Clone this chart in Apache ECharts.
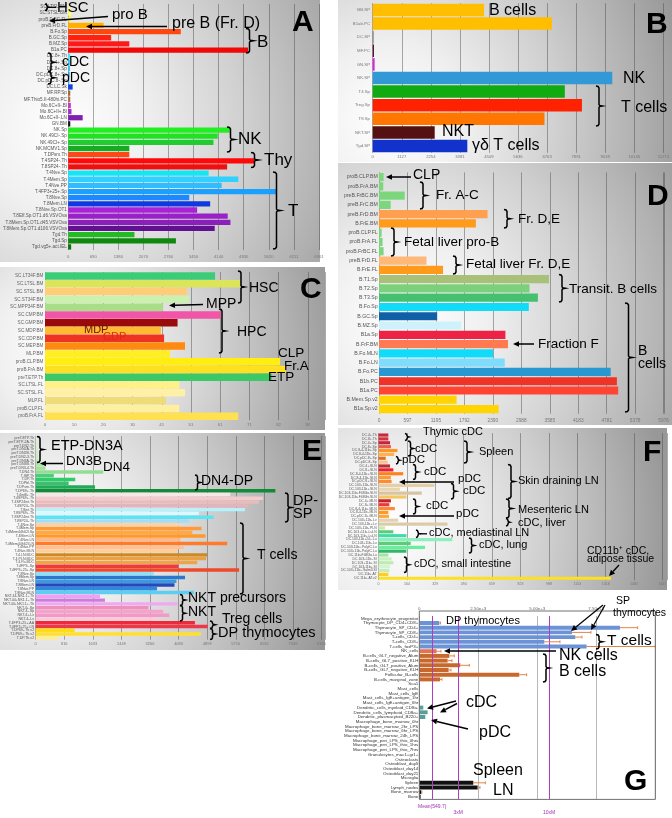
<!DOCTYPE html>
<html><head><meta charset="utf-8">
<script src="https://cdn.jsdelivr.net/npm/echarts/dist/echarts.min.js"></script>
<style>html,body{margin:0;padding:0;background:#fff;}#c{width:672px;height:818px;}</style>
</head><body><div id="c"></div><script>
// ---------- Panel A ----------
const aCats = ['SC.LTSL.BM','SC.STSL.BM','proB.FrBC.FL','preB.FrD.FL','B.Fo.Sp','B.GC.Sp','B.MZ.Sp','B1a.PC','DC.8+.Th','DC.4+.Sp','DC.8+.Sp','DC.pDC.8+.Sp','DC.pDC.8-.Sp','DC.LC.Sk','MF.RP.Sp','MF.Thio5.II-480hi.PC','Mo.6C+II-.Bl','Mo.6C+II+.Bl','Mo.6C+II-.LN','GN.BM','NK.Sp','NK.49CI-.Sp','NK.49CI+.Sp','NK.MCMV1.Sp','T.DPsm.Th','T.4SP24-.Th','T.8SP24-.Th','T.4Nve.Sp','T.4Mem.Sp','T.4Nve.PP','T.4FP3+25+.Sp','T.8Nve.Sp','T.8Mem.LN','T.8Nve.Sp.OT1','T.8Eff.Sp.OT1.d6.VSVOva','T.8Mem.Sp.OT1.d45.VSVOva','T.8Mem.Sp.OT1.d106.VSVOva','Tgd.Th','Tgd.Sp','Tgd.vg5+.act.IEL'];
const aVals = [59,83,74,975,3099,1183,1683,4948,59,49,49,41,33,124,59,59,74,92,400,59,4448,4115,3998,1683,1683,5131,4374,3865,4681,4224,5723,3332,3907,3549,4390,4465,4032,1825,2965,83];
const aTicks = ['0','690','1380','2070','2760','3450','4140','4830','5520','6211','6901'];
// ---------- Panel B ----------
const bCats = ['BB.SP','B1ab.PC','DC.SP','MF.PC','GN.SP','NK.SP','T4.Sp','Treg.Sp','T8.Sp','NKT.SP','Tgd.SP'];
const bVals = [4321,6951,38,50,75,9293,7452,8116,6663,2405,3670];
const bTicks = ['0','1127','2254','3381','4509','5636','6763','7891','9018','10145','11273'];
// ---------- Panel C ----------
const cCats = ['SC.LT34F.BM','SC.LTSL.BM','SC.STSL.BM','SC.ST34F.BM','SC.MPP34F.BM','SC.CMP.BM','SC.GMP.BM','SC.MDP.BM','SC.CDP.BM','SC.MEP.BM','MLP.BM','proB.CLP.BM','proB.FrA.BM','preT.ETP.Th','SC.LTSL.FL','SC.STSL.FL','MLP.FL','proB.CLP.FL','proB.FrA.FL'];
const cVals = [59.4,68.1,49.5,50.4,41.3,61.4,46.3,40.5,41.6,48.9,43.7,82.1,84.1,79.2,46.9,48.9,42.3,46.9,67.5];
const cTicks = ['0','10','20','30','41','51','61','71','82','92'];
// ---------- Panel D ----------
const dCats = ['proB.CLP.BM','proB.FrA.BM','preB.FrBC.BM','preB.FrC.BM','preB.FrD.BM','B.FrE.BM','proB.CLP.FL','proB.FrA.FL','proB.FrBC.FL','preB.FrD.FL','B.FrE.FL','B.T1.Sp','B.T2.Sp','B.T3.Sp','B.Fo.Sp','B.GC.Sp','B.MZ.Sp','B1a.Sp','B.FrF.BM','B.Fo.MLN','B.Fo.LN','B.Fo.PC','B1b.PC','B1a.PC','B.Mem.Sp.v2','B1a.Sp.v2'];
const dVals = [96,89,539,246,2279,2033,55,75,96,996,1344,3568,3159,3336,3145,1221,1726,2654,2708,2395,2640,4864,4994,5021,1630,2511];
const dTicks = ['0','597','1195','1792','2390','2988','3585','4183','4781','5378','5976'];
// ---------- Panel E ----------
const eCats = ['preT.ETP.Th','preT.ETP-2A.Th','preT.DN2.Th','preT.DN2A.Th','preT.DN2B.Th','preT.DN2-3.Th','preT.DN3A.Th','preT.DN3B.Th','preT.DN3-4.Th','T.DN4.Th','T.ISP.Th','T.DP.Th','T.DPbl.Th','T.DPsm.Th','T.DP69+.Th','T.4int8+.Th','T.4SP69+.Th','T.4SP24int.Th','T.4SP24-.Th','T.8int.Th','T.8SP69+.Th','T.8SP24int.Th','T.8SP24-.Th','T.4Nve.Sp','T.4Mem.Sp','T.4Mem44h62l.Sp','T.4Mem.LN','T.4Nve.LN','T.4Mem44h62l.LN','T.4Nve.PP','T.4Nve.MLN','T.4.LN.BDC','T.4.PLN.BDC','T.4.Pa.BDC','T.4FP3-.Sp','T.4FP3+25+.Sp','T.8Nve.Sp','T.8Mem.Sp','T.8Nve.LN','T.8Mem.LN','T.8Nve.PP','T.8Nve.MLN','NKT.44-NK1.1-.Th','NKT.44+NK1.1-.Th','NKT.44+NK1.1+.Th','NKT.4+.Sp','NKT.4-.Sp','NKT.4+.Lv','NKT.4-.Lv','T.4FP3+25+.AA','T.4FP3+25+.LN','T.DP69-.Th.v2','T.DP69+.Th.v2','T.DP.Th.v2'];
const eVals = [47,47,57,66,66,75,85,217,283,1931,518,1130,942,1695,6847,5557,6498,6376,6075,5980,4662,5086,4379,4100,4737,4474,4850,4144,5472,4238,4050,4897,4869,4615,4078,5811,3372,4266,4021,3965,3466,4521,1837,1978,4050,3221,3645,3814,3456,4549,4916,1111,4718,640];
const eTicks = ['0','816','1633','2449','3266','4083','4899','5716','6532','7349','8165'];
// ---------- Panel F ----------
const fCats = ['DC.4+.Th','DC.8+.Th','DC.4+.Sp','DC.8+.Sp','DC.8-4-11b+.Sp','DC.8-4-11b-.Sp','DC.pDC.8+.Sp','DC.pDC.8-.Sp','DC.4+.SLN','DC.8+.SLN','DC.8-4-11b+.SLN','DC.8-4-11b-.SLN','DC.pDC.8+.SLN','DC.103+11b-.SLN','DC.103-11b+.SLN','DC.103-11b+F480lo.SLN','DC.103-11b+F480hi.SLN','DC.4+.MLN','DC.8+.MLN','DC.8-4-11b+.MLN','DC.8-4-11b-.MLN','DC.pDC.8+.MLN','DC.103+11b-.Lv','DC.103-11b+.Lv','DC.103+11b-.PLN','DC.103+11b-.LuLN','DC.103-11b+.LuLN','DC.103-11b+24+.Lu','DC.103+11b-.Lu','DC.103-11b+.PolyIC.Lu','DC.103+11b-.PolyIC.Lu','DC.11b+F480lo.Lu','DC.103+11b-.SI','DC.103+11b+.SI','DC.103-11b+.SI','DC.103+11b+.Salm3.SI','DC.11b+.AT','DC.11b+.AT.v2'];
const fVals = [57,57,67,72,110,91,42,53,67,86,143,72,76,324,124,251,162,72,63,95,57,61,114,400,38,86,162,428,187,270,162,57,76,86,67,63,57,1348];
const fTicks = ['0','164','329','494','659','823','988','1153','1318','1482','1647'];
// ---------- Panel G ----------
const gCats = ['Mega_erythrocyte_progenitor','Thymocyte_DP_CD4+CD8+','Thymocyte_SP_CD4+','Thymocyte_SP_CD8+','T-cells_CD4+','T-cells_CD8+','T-cells_foxP3+','NK_cells','B-cells_GL7_negative_Alum','B-cells_GL7_positive_KLH','B-cells_GL7_positive_Alum','B-cells_GL7_negative_KLH','Follicular_B-cells','B-cells_marginal_zone','Sca1','Mast_cells','Mast_cells_IgE','Mast_cells_IgE+antigen_1hr','Mast_cells_IgE+antigen_6hr','Dendritic_cells_myeloid_CD8a-','Dendritic_cells_lymphoid_CD8a+','Dendritic_plasmacytoid_B220+','Macrophage_bone_marrow_0hr','Macrophage_bone_marrow_2hr_LPS','Macrophage_bone_marrow_6hr_LPS','Macrophage_bone_marrow_24h_LPS','Macrophage_peri_LPS_thio_0hrs','Macrophage_peri_LPS_thio_1hrs','Macrophage_peri_LPS_thio_7hrs','Granulocytes_mac1+gr1+','Osteoclasts','Osteoblast_day5','Osteoblast_day14','Osteoblast_day21','Microglia','Spleen','Lymph_nodes','Bone_marrow','Bone'];
const gVals = [15,847,8503,6469,6610,5297,7090,734,1271,1200,1737,1243,4237,876,20,15,15,15,15,170,353,254,20,20,20,20,20,20,20,20,20,15,15,15,20,2288,2472,85,56];
const gErrHigh = [0,900,9251,7274,6893,5960,10000,918,1483,1384,2119,1342,4548,960,0,0,0,0,0,0,0,0,0,0,0,0,0,0,0,0,0,0,0,0,0,2797,2571,110,0];
const gTicks = ['0','2.50e+3','5.00e+3','7.50e+3'];
const gRefLines = [549.7, 1649.1, 5497.0];
const gRefNames = ['Mean(549.7)', '3xM', '10xM'];

// ---------- styles (colours per bar) ----------
const aPal = ['#ffffa8','#ffff70','#fff040','#ffb000','#ff4810','#ff2010','#ff1818','#ee0808','#40e8ff','#30d0ff','#28c0f0','#1e9cf0','#3aa0ff','#1040e8','#a06830','#a87040','#cc30cc','#a030c8','#8020b0','#101010','#22ee22','#22e022','#20cc30','#18aa22','#ff4818','#ff0808','#ee1010','#18e4f4','#30d0ff','#30bcff','#1aa0ff','#1e88ff','#1038e0','#aa22d8','#9a20c8','#8a20b8','#601090','#22bb22','#108810','#107010'];
const bPal = ['#ffbe00','#ffbe00','#808080','#551133','#dd22dd','#3399d6','#11aa11','#ff2200','#ff7700','#551111','#1133cc'];
const cPal = ['#3ccc78','#dce45a','#ffcc78','#ccf0b0','#aadd88','#f055a8','#990a0a','#ffbb30','#ee3322','#ff8a10','#ffee22','#ffee10','#ffe020','#3cc864','#fff08a','#fff0a8','#eedc78','#fff0a0','#ffe050'];
const dPal = ['#7cd67c','#7cd67c','#7cd67c','#7cd67c','#ffa050','#ff9a1a','#7cd67c','#7cd67c','#7cd67c','#ffb878','#ff9a1a','#a8c078','#7cd07c','#44c070','#10dcfa','#1060a8','#cdf2fc','#ee2244','#ff7a50','#10dcfa','#80dcfc','#2898d0','#ee3328','#ff4433','#ffd400','#ffd400'];
const ePal = ['#dff4d8','#d8f2d0','#d4f0cc','#d0eec8','#ccecc4','#c8eac0','#c4e8bc','#b0e4a8','#a4e09c','#94dc94','#4ccc7c','#2ccc68','#38c070','#22aa58','#138a38','#f6e6e6','#f0cccc','#e8bcbc','#e4b4bc','#b4f2fc','#dcf8fc','#5ae4f4','#a4dcf4','#ffd0a4','#ff9a3a','#ffa848','#ff9a2a','#ffb888','#ff7a2a','#ffc094','#ffcc9c','#cc8a22','#eea040','#eea448','#ee3a3a','#ee4a2a','#8ce0f8','#2a78cc','#3a9ae0','#2648bc','#2a8ae0','#5ccef4','#f0a0f0','#cc7ce0','#f0a8f0','#ee90bc','#f4a4cc','#f498c4','#f8cadb','#ee2a3a','#ee3848','#ffdd10','#ffe030','#ffee90'];
const fPal = ['#c8283c','#d8303c','#c02838','#e86050','#ff9420','#ffb050','#e07020','#ffc090','#b83030','#ee2030','#ff8020','#ff9a30','#ff8a30','#e4cfa8','#e8d4b0','#d8c4a4','#f4c860','#c82030','#ee3838','#ff8830','#ff9a2a','#ffa838','#e0d2b2','#dccba8','#c4ecb4','#5ccc78','#40dca8','#8ef0c0','#5ccc78','#66f09a','#30b868','#a8e0b0','#c8f0c0','#bcecb0','#d4f4cc','#c4ecbc','#ffcc22','#ffe020'];
const gPal = gCats.map((c,i)=> i>=1&&i<=6 ? '#6b93d6' : i===7 ? '#e8704f' : (i>=8&&i<=13) ? '#c8682c' : (i>=19&&i<=21) ? '#5a9e9a' : i>=35 ? '#111111' : '#888888');

const FONT = '"Liberation Sans", Arial, Helvetica, sans-serif';
const grid=[], xAxis=[], yAxis=[], series=[];
function panel(p){
  const i = grid.length;
  grid.push({left:p.l, top:p.t, width:p.w, height:p.h});
  xAxis.push({gridIndex:i, type:'value', min:0, max:p.max, interval:p.step, position:p.pos||'bottom',
    axisLine:{show:false}, axisTick:{show:false},
    splitLine:{show:true, lineStyle:{color:p.gc||'rgba(70,70,70,0.45)', width:1}},
    axisLabel:{fontSize:p.xfs, color:p.xfc||'#777', margin:p.xm, fontFamily:FONT, showMaxLabel:true, showMinLabel:true,
      formatter:(v)=>{const k=Math.round(v/p.step); return (Math.abs(v-k*p.step)<p.step*0.02 && k<p.ticks.length)?p.ticks[k]:'';}}});
  yAxis.push({gridIndex:i, type:'category', data:p.cats, inverse:true, axisLine:{show:false}, axisTick:{show:false}, splitLine:{show:false},
    axisLabel:{interval:0, fontSize:p.yfs, color:p.yfc||'#555', margin:p.ym, fontFamily:FONT}});
  const s = {type:'bar', xAxisIndex:i, yAxisIndex:i, data:p.vals, barCategoryGap:p.gap, silent:true,
    itemStyle:{color:(q)=>p.pal[q.dataIndex]}};
  series.push(s);
  return s;
}
panel({l:43,t:3.9,w:276,h:246.1,max:6901,step:690.1,ticks:aTicks,cats:aCats,vals:aVals,pal:aPal,gap:'14%',xfs:4.2,xm:4.5,yfs:4.6,ym:1.3});
panel({l:372.7,t:3.2,w:300,h:149.6,max:11273,step:1127.3,ticks:bTicks,cats:bCats,vals:bVals,pal:bPal,gap:'8%',xfs:4.2,xm:2.2,yfs:4.3,ym:2.7,yfc:'#777'});
panel({l:45,t:272.1,w:280,h:148,max:97.8,step:10.2,ticks:cTicks,cats:cCats,vals:cVals,pal:cPal,gap:'4%',xfs:4.4,xm:2.7,yfs:4.6,ym:1.7,yfc:'#666'});
panel({l:379,t:172.4,w:293,h:241.3,max:5996,step:597.6,ticks:dTicks,cats:dCats,vals:dVals,pal:dPal,gap:'12%',xfs:4.8,xm:4,yfs:5.2,ym:1.3,yfc:'#555'});
panel({l:31.5,t:436.1,w:293.5,h:203.6,max:8264,step:816.5,ticks:eTicks,cats:eCats,vals:eVals,pal:ePal,gap:'8%',xfs:4,xm:2.3,yfs:3.6,ym:1.5,yfc:'#555'});
panel({l:378.5,t:433.1,w:288.5,h:147.1,max:1673,step:164.7,ticks:fTicks,cats:fCats,vals:fVals,pal:fPal,gap:'18%',xfs:3.6,xm:2,yfs:3.4,ym:1.8,yfc:'#555'});
const gs = panel({l:419.3,t:615.95,w:236,h:183.3,max:10000,step:2500,ticks:gTicks,cats:gCats,vals:gVals,pal:gPal,gap:'16%',xfs:4.4,xm:5.3,yfs:4.4,ym:1,yfc:'#333',xfc:'#666',pos:'top',gc:'#b8b8b8'});
gs.markLine = {silent:true, symbol:['none','none'], label:{show:false}, lineStyle:{color:'#b03cc0', width:1, type:'solid'},
  data: gRefLines.map(v=>({xAxis:v}))};
series.push({type:'custom', xAxisIndex:6, yAxisIndex:6, silent:true, z:5,
  data: gErrHigh.map((e,i)=>[gVals[i], i, e]).filter(d=>d[2]>0),
  encode:{x:[0,2], y:1},
  renderItem:(params, api)=>{
    const p0 = api.coord([api.value(0), api.value(1)]);
    const p1 = api.coord([api.value(2), api.value(1)]);
    const h = api.size([0,1])[1]*0.3;
    const st = {stroke:'#e0844a', lineWidth:1};
    return {type:'group', children:[
      {type:'line', shape:{x1:p0[0],y1:p0[1],x2:p1[0],y2:p1[1]}, style:st},
      {type:'line', shape:{x1:p1[0],y1:p1[1]-h,x2:p1[0],y2:p1[1]+h}, style:st}]};
  }});

// ---------- graphics ----------
const gfx = [];
function bg(x,y,w,h,cx,cy,r){
  gfx.push({type:'rect', z:-100, silent:true, shape:{x,y,width:w,height:h},
    style:{fill:new echarts.graphic.RadialGradient(cx,cy,r,[
      {offset:0,color:'#ffffff'},{offset:0.25,color:'#f0f0f0'},{offset:0.55,color:'#d0d0d0'},{offset:0.8,color:'#b2b2b2'},{offset:1,color:'#989898'}])}});
}
bg(0,0,320,262,0.2,0.5,1.25);
bg(338,0,334,162,0.15,0.75,1.9);
bg(0,267,325,163,0.2,0.5,1.7);
bg(338,163,334,262,0.2,0.6,1.25);
bg(0,433,325,217,0.15,0.5,1.35);
bg(338,428,329,162,0.15,0.6,1.75);
function T(x,y,s,size,o){ o=o||{};
  gfx.push({type:'text', z:110, silent:true, style:{x, y, text:s, fill:o.fill||'#000',
    font:(o.bold?'bold ':'')+size+'px '+FONT, align:'left', verticalAlign:'middle', textAlign:'left', textVerticalAlign:'middle'}});
}
function L(x1,y1,x2,y2,w){ gfx.push({type:'line', z:110, silent:true, shape:{x1,y1,x2,y2}, style:{stroke:'#000', lineWidth:w||1.4}}); }
function arrow(x1,y1,x2,y2,w){
  const a=Math.atan2(y2-y1,x2-x1), Lh=6, W=2.8;
  const bx=x2-Lh*Math.cos(a), by=y2-Lh*Math.sin(a), px=-Math.sin(a)*W, py=Math.cos(a)*W;
  L(x1,y1,bx,by,w||1.5);
  gfx.push({type:'polygon', z:111, silent:true, shape:{points:[[x2,y2],[bx+px,by+py],[bx-px,by-py]]}, style:{fill:'#000'}});
}
function brace(x,y1,y2,w){ w=w||6; const ym=(y1+y2)/2, h=w/2;
  const pts=[[x,y1],[x+h*0.7,y1+0.5],[x+h,y1+2],[x+h,ym-1.5],[x+h*1.25,ym-0.4],[x+w,ym],[x+h*1.25,ym+0.4],[x+h,ym+1.5],[x+h,y2-2],[x+h*0.7,y2-0.5],[x,y2]];
  gfx.push({type:'polyline', z:110, silent:true, shape:{points:pts}, style:{stroke:'#000', lineWidth:1.5, fill:null}});
}
// A
brace(45,4,10.5,4); L(49,7.3,56,7.3,1.3); T(57,7.8,'HSC',15);
T(112,15,'pro B',15); arrow(108,16.5,49,21);
T(172,23.5,'pre B (Fr. D)',16); arrow(167,26.5,86,26.5);
brace(246,28.5,53,7); T(257,42,'B',17);
brace(48,53,71.5,6); T(62,62,'cDC',14);
brace(48,71.5,84,6); T(62,78,'pDC',14);
brace(227,127,152,7); T(238,139,'NK',17);
brace(251,152.5,167.5,7); T(264,160,'Thy',17);
brace(273,172,249,7); T(288,211,'T',17);
T(292,23,'A',30,{bold:true});
// B
T(489,11,'B cells',16); T(646,25,'B',30,{bold:true}); T(623,79,'NK',16);
brace(596,86,126,6); T(621,108,'T cells',16);
T(442,132,'NKT',16); T(472,146,'γδ T cells',16);
// C
brace(238,271,303,6); T(249,288,'HSC',14); T(300,290,'C',30,{bold:true});
arrow(203,304.5,169,305.5); T(206,304,'MPP',14);
brace(219,309,353,6); T(237,332,'HPC',14);
T(84,330,'MDP',11,{fill:'#6b1200'}); T(103,337,'CDP',11,{fill:'#e02a10'});
T(278,353,'CLP',13.5); T(284,366,'Fr.A',13.5); T(268,377,'ETP',13.5);
// D
arrow(411,177,386,177); T(413,175,'CLP',14);
brace(420,182,209,6); T(436,195,'Fr. A-C',13.5);
brace(504,209.5,228,6); T(518,219,'Fr. D,E',13.5);
brace(391,228,256,6); T(404,242,'Fetal liver pro-B',13.5);
brace(453,256,274,6); T(466,264,'Fetal liver Fr. D,E',13.5);
brace(559,274.5,302,6); T(569,289,'Transit. B cells',13.5);
arrow(534,344,513,344); T(538,344,'Fraction F',13.5);
brace(625,303,412,7); T(638,351,'B',14); T(638,364,'cells',14);
T(647,197,'D',30,{bold:true});
// E
brace(37,436.5,462.5,6); T(51,446,'ETP-DN3A',14.5);
arrow(63,463.5,40,463.5); T(66,461,'DN3B',13.5); T(103,467,'DN4',13.5);
brace(195,475,490,5); T(201,481.5,'DN4-DP',14);
brace(285,493,522,6); T(293,500.5,'DP-',14.5); T(293,513.5,'SP',14.5);
brace(240,523,594,6); T(257,555,'T cells',14);
brace(180,594.5,605.5,5); T(188,598,'NKT precursors',14);
brace(180,605.5,621,5); T(188,612,'NKT',14);
brace(210,621,628.5,5); T(222,619,'Treg cells',14);
brace(210,628.5,639.5,5); T(218,633,'DP thymocytes',14.5);
T(302,452,'E',30,{bold:true});
// F
T(423,432,'Thymic cDC',11); brace(405,433.5,440.5,4);
brace(408,441,456,5); T(415,449,'cDC',11.5);
brace(396,456.5,464,4); T(402,460,'pDC',11.5);
brace(464,441,463,6); T(479,452,'Spleen',11);
brace(413,464.5,479.5,5); T(424,472,'cDC',11.5);
arrow(454,482,399,482); T(458,478.5,'pDC',11.5);
brace(451,483.5,499,5); T(463,491,'cDC',11.5);
brace(508,464.5,498.5,6); T(518,481,'Skin draining LN',11);
brace(413,499,514,5); T(426,506,'cDC',11.5);
arrow(454,516,399,516); T(456,514,'pDC',11.5);
brace(506,499,518,6); T(518,510,'Mesenteric LN',11);
brace(506,518.5,526,4); T(518,523,'cDC, liver',11);
brace(416,530,537.5,4); L(420,533.8,427,533.8,1.3); T(429,533,'cDC, mediastinal LN',11);
brace(469,538,553,5); T(479,545,'cDC, lung',11);
brace(404,557,572.5,5); T(414,564,'cDC, small intestine',11);
T(587,551,'CD11b⁺ cDC,',10.5); T(587,559.5,'adipose tissue',10.5);
arrow(619,565,609,576,1.3);
T(643,453,'F',30,{bold:true});
// G
gfx.push({type:'rect', z:50, silent:true, shape:{x:419.3,y:611,width:236,height:188.4}, style:{fill:null, stroke:'#707070', lineWidth:1}});
T(446,621,'DP thymocytes',11);
T(616,601,'SP',10.5); T(613,613.5,'thymocytes',10.5);
arrow(603,605,571,631,1.2); arrow(605,605,591,630,1.2);
brace(596,634.5,649,6); T(607,641,'T cells',15.5);
arrow(556,651,444,651); T(559,656,'NK cells',16);
brace(543,654,682,6); T(559,672,'B cells',16);
T(466,703,'cDC',16); arrow(456,701,427,708.5); arrow(457,703.5,440,712.5);
T(479,733,'pDC',16); arrow(468,729,431,720);
T(473,771,'Spleen',16); T(493,791,'LN',16);
T(624,782,'G',30,{bold:true});

const chart = echarts.init(document.getElementById('c'), null, {renderer:'canvas', width:672, height:818});
chart.setOption({animation:false, backgroundColor:'#fff', textStyle:{fontFamily:FONT}, grid, xAxis, yAxis, series, graphic:{elements:gfx}});
// reference-line labels placed through the axis scale
const extra = gRefLines.map((v,i)=>{
  const x = chart.convertToPixel({xAxisIndex:6}, v);
  return {type:'text', z:110, silent:true, style:{x, y: i===0?807:813, text:gRefNames[i], fill:'#a030b0', font:'5px '+FONT, align:'center', verticalAlign:'middle', textAlign:'center', textVerticalAlign:'middle'}};
});
chart.setOption({graphic:{elements:gfx.concat(extra)}});
</script></body></html>
